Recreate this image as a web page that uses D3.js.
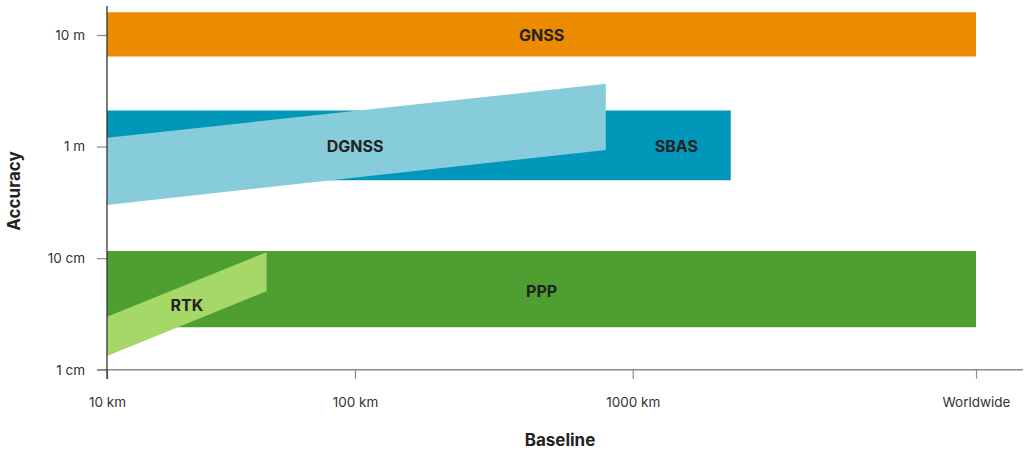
<!DOCTYPE html>
<html>
<head>
<meta charset="utf-8">
<script src="https://cdn.jsdelivr.net/npm/d3@7"></script>
<style>
  html, body { margin: 0; padding: 0; background: #fff; }
  svg { display: block; font-family: Inter, "Liberation Sans", Arial, sans-serif; }
</style>
</head>
<body>
<svg id="chart" width="1029" height="450"></svg>
<script>
// Positioning techniques: baseline range (km) vs achievable accuracy (cm)
const names     = ["GNSS", "SBAS", "DGNSS", "PPP", "RTK"];
const startKm   = [10, 10, 10, 10, 10];
const endKm     = [10000, 1930, 800, 10000, 44];
const lowStart  = [640, 50, 30, 2.4, 1.33];
const lowEnd    = [640, 50, 93, 2.4, 5.05];
const highStart = [1600, 210, 120, 11.6, 2.98];
const highEnd   = [1600, 210, 365, 11.6, 11.3];

// where each technique name sits (km, cm)
const labelKm = [470, 1340, 100, 470, 21];
const labelCm = [1000, 100, 100, 5, 3.8];

// axis ticks
const xTickValues = [10, 100, 1000, 10000];
const xTickLabels = ["10 km", "100 km", "1000 km", "Worldwide"];
const yTickValues = [1, 10, 100, 1000];
const yTickLabels = ["1 cm", "10 cm", "1 m", "10 m"];

const colors = {
  GNSS: "#EC8A00",
  SBAS: "#0097BA",
  DGNSS: "#87CCDA",
  PPP: "#4F9E31",
  RTK: "#A6D867"
};

const fontStack = 'Inter, "Liberation Sans", Arial, sans-serif';
const svg = d3.select("#chart");

// piecewise log scale: decades, then a final stretch to worldwide coverage
const x = d3.scaleLog()
  .domain(xTickValues)
  .range([107, 355, 632.7, 976]);

const y = d3.scaleLog()
  .domain([1, 1000])
  .range([369.7, 35]);

const bands = names.map((n, i) => ({
  name: n,
  pts: [
    { km: startKm[i], lo: lowStart[i], hi: highStart[i] },
    { km: endKm[i], lo: lowEnd[i], hi: highEnd[i] }
  ]
}));

const area = d3.area()
  .x(d => x(d.km))
  .y0(d => y(d.lo))
  .y1(d => y(d.hi));

svg.append("g")
  .selectAll("path")
  .data(bands)
  .join("path")
  .attr("d", d => area(d.pts))
  .attr("fill", d => colors[d.name]);

// x axis
const xAxis = d3.axisBottom(x)
  .tickValues(xTickValues)
  .tickFormat((d, i) => xTickLabels[i])
  .tickSize(9)
  .tickPadding(19);

const gx = svg.append("g")
  .attr("transform", `translate(0,${y(1)})`)
  .call(xAxis)
  .attr("font-family", fontStack)
  .attr("font-size", 13.5);
gx.select(".domain").remove();
gx.append("line")
  .attr("x1", 97).attr("x2", 1023)
  .attr("stroke", "#8c8c8c").attr("stroke-width", 1.5);
gx.selectAll(".tick line").attr("stroke", "#8c8c8c").attr("stroke-width", 1.2);
gx.selectAll(".tick text").attr("fill", "#333");

// y axis
const yAxis = d3.axisLeft(y)
  .tickValues(yTickValues)
  .tickFormat((d, i) => yTickLabels[i])
  .tickSize(10)
  .tickPadding(12);

const gy = svg.append("g")
  .attr("transform", `translate(${x(10)},0)`)
  .call(yAxis)
  .attr("font-family", fontStack)
  .attr("font-size", 13.5);
gy.select(".domain").remove();
gy.selectAll(".tick line").attr("stroke", "#8c8c8c").attr("stroke-width", 1.2);
gy.selectAll(".tick text").attr("fill", "#333");
gy.append("line")
  .attr("y1", 6).attr("y2", 379)
  .attr("stroke", "#333").attr("stroke-width", 1.3);

// technique names
svg.append("g")
  .selectAll("text")
  .data(names)
  .join("text")
  .attr("x", (d, i) => x(labelKm[i]))
  .attr("y", (d, i) => y(labelCm[i]))
  .attr("dy", "0.36em")
  .attr("text-anchor", "middle")
  .attr("fill", "#222")
  .style("font-size", "16px")
  .style("font-weight", "bold")
  .text(d => d);

// axis titles
svg.append("text")
  .attr("transform", "translate(20,191) rotate(-90)")
  .attr("text-anchor", "middle")
  .attr("fill", "#222")
  .style("font-size", "17px")
  .style("font-weight", "bold")
  .text("Accuracy");

svg.append("text")
  .attr("x", 560)
  .attr("y", 446)
  .attr("text-anchor", "middle")
  .attr("fill", "#222")
  .style("font-size", "17px")
  .style("font-weight", "bold")
  .text("Baseline");
</script>
</body>
</html>
